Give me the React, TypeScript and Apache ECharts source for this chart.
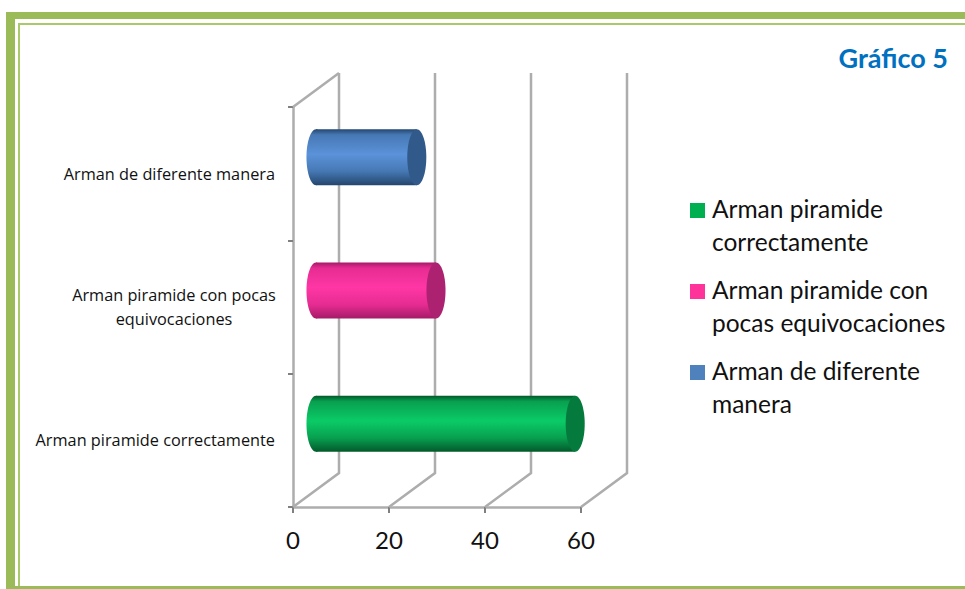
import React, { useEffect, useRef } from "react";
import * as echarts from "echarts";

const categories = ["Arman piramide correctamente", "Arman piramide con pocas equivocaciones", "Arman de diferente manera"];
const axisLabels = ["Arman piramide correctamente", "{w|Arman piramide con pocas}\n{w|equivocaciones}", "Arman de diferente manera"];
const legendLabels = ["Arman piramide\ncorrectamente", "Arman piramide con\npocas equivocaciones", "Arman de diferente\nmanera"];
const values = [54, 25, 21];
const xTicks = [0, 20, 40, 60];
const swatchColors = ["#00B050", "#FF3399", "#4F81BD"];
const bodyDark = ["#02592A", "#A61A68", "#24466E"];
const bodyMid = ["#08A050", "#E62C92", "#4678B4"];
const bodyLight = ["#0ACB66", "#FF36A5", "#5B92D9"];
const capColors = ["#047B3C", "#AC2170", "#31598A"];

const FONT = "Lato";
const LABEL_FONT = "Open Sans";
const DEPTH_X = 46;
const DEPTH_Y = -34;
const WALL = "#ADADAD";

export default function App() {
  const ref = useRef<HTMLDivElement>(null);
  useEffect(() => {
    const chart = echarts.init(ref.current!, undefined, { renderer: "svg" });

    const wallSeries = {
      type: "custom",
      name: "walls",
      silent: true,
      clip: false,
      z: 1,
      data: xTicks.map((t) => [t, 0]),
      renderItem: (params: any, api: any) => {
        const v = api.value(0);
        const cs = params.coordSys;
        const floorY = cs.y + cs.height;
        const x = api.coord([v, 0])[0];
        const lineStyle = { stroke: WALL, lineWidth: 2.5, fill: "none" };
        const children: any[] = [
          {
            type: "polyline",
            shape: {
              points: [
                [x, floorY],
                [x + DEPTH_X, floorY + DEPTH_Y],
                [x + DEPTH_X, cs.y + DEPTH_Y],
              ],
            },
            style: lineStyle,
          },
        ];
        if (v === 0) {
          children.push({
            type: "line",
            shape: { x1: x, y1: cs.y, x2: x + DEPTH_X, y2: cs.y + DEPTH_Y },
            style: lineStyle,
          });
        }
        return { type: "group", children };
      },
    };

    const barSeries = categories.map((name, i) => ({
      type: "custom",
      name,
      clip: false,
      z: 3,
      itemStyle: { color: swatchColors[i] },
      data: [[values[i], i]],
      renderItem: (_p: any, api: any) => {
        const start = api.coord([0, api.value(1)]);
        const end = api.coord([api.value(0), api.value(1)]);
        const band = api.size([0, 1])[1];
        const ry = band * 0.21;
        const rx = ry * 0.34;
        const cy = start[1] + DEPTH_Y / 2 + 0.5;
        const x0 = start[0] + DEPTH_X / 2;
        const x1 = end[0] + DEPTH_X / 2;
        const fill = new echarts.graphic.LinearGradient(0, 0, 0, 1, [
          { offset: 0, color: bodyDark[i] },
          { offset: 0.1, color: bodyMid[i] },
          { offset: 0.45, color: bodyLight[i] },
          { offset: 0.75, color: bodyMid[i] },
          { offset: 1, color: bodyDark[i] },
        ]);
        return {
          type: "group",
          children: [
            { type: "ellipse", shape: { cx: x0, cy, rx, ry }, style: { fill } },
            { type: "rect", shape: { x: x0, y: cy - ry, width: x1 - x0, height: ry * 2 }, style: { fill } },
            { type: "ellipse", shape: { cx: x1, cy, rx, ry }, style: { fill: capColors[i] } },
          ],
        };
      },
    }));

    chart.setOption({
      animation: false,
      backgroundColor: "#FFFFFF",
      title: {
        text: "Gráfico 5",
        right: 17,
        top: 44,
        padding: 0,
        textStyle: { fontFamily: FONT, fontSize: 27, fontWeight: "bold", color: "#0070C0" },
      },
      legend: {
        orient: "vertical",
        left: 690,
        top: 192,
        padding: 0,
        itemWidth: 15,
        itemHeight: 66,
        itemGap: 15,
        selectedMode: false,
        icon: "path://M0 11h15v15h-15z M0 0h0v0z M0 66h0v0z",
        data: categories,
        formatter: (name: string) => legendLabels[categories.indexOf(name)],
        textStyle: { fontFamily: FONT, fontSize: 24.5, lineHeight: 33, color: "#111111", padding: [0, 0, 0, 2] },
      },
      grid: { left: 293, top: 107, width: 288, height: 400 },
      xAxis: {
        type: "value",
        min: 0,
        max: 60,
        interval: 20,
        axisLine: { show: true, lineStyle: { color: WALL, width: 2.5 } },
        axisTick: { show: true, length: 6, lineStyle: { color: "#808080", width: 2 } },
        splitLine: { show: false },
        axisLabel: { fontFamily: FONT, fontSize: 24, color: "#111111", margin: 20 },
      },
      yAxis: {
        type: "category",
        data: axisLabels,
        axisLine: { show: true, lineStyle: { color: WALL, width: 2.5 } },
        axisTick: { show: true, length: 5, lineStyle: { color: "#808080", width: 2 } },
        axisLabel: {
          fontFamily: LABEL_FONT,
          fontSize: 16.3,
          lineHeight: 24,
          color: "#111111",
          margin: 18,
          align: "right",
          rich: { w: { width: 202, align: "center", fontFamily: LABEL_FONT, fontSize: 16.3, color: "#111111" } },
        },
      },
      graphic: {
        elements: [
          { type: "rect", silent: true, shape: { x: 6, y: 12, width: 959, height: 7 }, style: { fill: "#9BBB59" } },
          { type: "rect", silent: true, shape: { x: 6, y: 12, width: 9, height: 577 }, style: { fill: "#9BBB59" } },
          { type: "rect", silent: true, shape: { x: 18, y: 23, width: 947, height: 2 }, style: { fill: "#A9C96A" } },
          { type: "rect", silent: true, shape: { x: 18, y: 23, width: 2, height: 566 }, style: { fill: "#A9C96A" } },
          { type: "rect", silent: true, shape: { x: 6, y: 586, width: 959, height: 3 }, style: { fill: "#9BBB59" } },
        ],
      },
      series: [wallSeries, ...barSeries],
    });
    return () => chart.dispose();
  }, []);
  return <div ref={ref} style={{ position: "absolute", left: 0, top: 0, width: 965, height: 589 }} />;
}
